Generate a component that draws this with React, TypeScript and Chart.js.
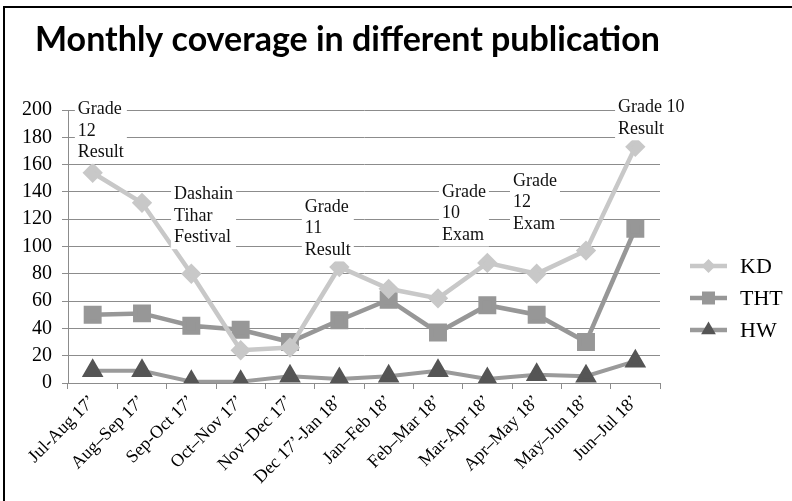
import React, { useEffect, useRef } from "react";
import { Chart, registerables } from "chart.js";

Chart.register(...registerables);

const categories = [
  "Jul-Aug 17’",
  "Aug–Sep 17’",
  "Sep-Oct 17’",
  "Oct–Nov 17’",
  "Nov–Dec 17’",
  "Dec 17’-Jan 18’",
  "Jan–Feb 18’",
  "Feb–Mar 18’",
  "Mar-Apr 18’",
  "Apr–May 18’",
  "May–Jun 18’",
  "Jun–Jul 18’",
];

const kdValues = [154, 132, 80, 24, 26, 85, 69, 62, 88, 80, 97, 173];
const thtValues = [50, 51, 42, 39, 30, 46, 61, 37, 57, 50, 30, 113];
const hwValues = [9, 9, 1, 1, 5, 3, 5, 9, 3, 6, 5, 16];

const yTicks = [0, 20, 40, 60, 80, 100, 120, 140, 160, 180, 200];

const title = "Monthly coverage in different publication";

// annotation text boxes: lines, anchor category position (fractional index), anchor value (top line)
const noteLines = [
  ["Grade", "12", "Result"],
  ["Dashain", "Tihar", "Festival"],
  ["Grade", "11", "Result"],
  ["Grade", "10", "Exam"],
  ["Grade", "12", "Exam"],
  ["Grade 10", "Result"],
];
const noteX = [-0.3, 1.65, 4.3, 7.08, 8.52, 10.65];
const noteY = [200.5, 138, 129, 140, 148, 202];

const seriesNames = ["KD", "THT", "HW"];

const SERIF = "'Liberation Serif', 'DejaVu Serif', serif";

const decorPlugin = {
  id: "decor",
  beforeDraw(chart: any) {
    const ctx = chart.ctx;
    ctx.save();
    ctx.fillStyle = "#ffffff";
    ctx.fillRect(0, 0, chart.width, chart.height);
    ctx.restore();
  },
  afterDraw(chart: any) {
    const ctx = chart.ctx;
    const xs = chart.scales.x;
    const ys = chart.scales.y;
    ctx.save();

    // frame
    ctx.fillStyle = "#000";
    ctx.fillRect(3, 6, 2, chart.height);
    ctx.fillRect(3, 6, chart.width, 2);

    // title
    ctx.fillStyle = "#000";
    ctx.font = "bold 34px Lato, 'Open Sans', sans-serif";
    ctx.textBaseline = "alphabetic";
    ctx.textAlign = "left";
    ctx.fillText(title, 35, 51);

    // annotations
    ctx.font = "18px " + SERIF;
    const lh = 21.5;
    noteLines.forEach((lines, i) => {
      const x = xs.getPixelForValue(noteX[i]);
      const y = ys.getPixelForValue(noteY[i]);
      let w = 0;
      lines.forEach((l) => (w = Math.max(w, ctx.measureText(l).width)));
      ctx.fillStyle = "#fff";
      ctx.fillRect(x - 3, y - 11, w + 6, lh * lines.length + 1);
      ctx.fillStyle = "#111";
      ctx.textBaseline = "middle";
      lines.forEach((l, k) => ctx.fillText(l, x, y + k * lh));
    });

    // legend
    const ds = chart.data.datasets;
    const ly = [266, 298, 330];
    ds.forEach((d: any, i: number) => {
      const y = ly[i];
      ctx.strokeStyle = d.borderColor;
      ctx.lineWidth = 4.5;
      ctx.beginPath();
      ctx.moveTo(690, y);
      ctx.lineTo(727, y);
      ctx.stroke();
      ctx.fillStyle = d.pointBackgroundColor;
      const cx = 708.5;
      ctx.beginPath();
      if (d.pointStyle === "rectRot") {
        const r = 7;
        ctx.moveTo(cx, y - r);
        ctx.lineTo(cx + r, y);
        ctx.lineTo(cx, y + r);
        ctx.lineTo(cx - r, y);
      } else if (d.pointStyle === "rect") {
        const s = 6.5;
        ctx.rect(cx - s, y - s, 2 * s, 2 * s);
      } else {
        const r = 8.5;
        ctx.moveTo(cx, y - r);
        ctx.lineTo(cx + r * 0.866, y + r * 0.5);
        ctx.lineTo(cx - r * 0.866, y + r * 0.5);
      }
      ctx.closePath();
      ctx.fill();
      ctx.fillStyle = "#000";
      ctx.font = "22px " + SERIF;
      ctx.textBaseline = "middle";
      ctx.textAlign = "left";
      ctx.fillText(d.label, 740, y + 1);
    });
    ctx.restore();
  },
};

export default function App() {
  const ref = useRef<HTMLCanvasElement | null>(null);
  useEffect(() => {
    document.body.style.margin = "0";
    if (!ref.current) return;
    const chart = new Chart(ref.current, {
      type: "line",
      data: {
        labels: categories,
        datasets: [
          {
            label: seriesNames[0],
            data: kdValues,
            borderColor: "#c8c8c8",
            backgroundColor: "#c8c8c8",
            pointBackgroundColor: "#c8c8c8",
            pointBorderColor: "#c8c8c8",
            pointStyle: "rectRot",
            pointRadius: 7,
            borderWidth: 4.5,
            tension: 0,
          },
          {
            label: seriesNames[1],
            data: thtValues,
            borderColor: "#979797",
            backgroundColor: "#979797",
            pointBackgroundColor: "#979797",
            pointBorderColor: "#979797",
            pointStyle: "rect",
            pointRadius: 9.5,
            borderWidth: 4.5,
            tension: 0,
          },
          {
            label: seriesNames[2],
            data: hwValues,
            borderColor: "#9a9a9a",
            backgroundColor: "#555555",
            pointBackgroundColor: "#555555",
            pointBorderColor: "#555555",
            pointStyle: "triangle",
            pointRadius: 8.5,
            borderWidth: 4,
            tension: 0,
          },
        ],
      },
      options: {
        responsive: false,
        animation: false,
        devicePixelRatio: 1,
        layout: { padding: { top: 110, right: 132, left: 0, bottom: 0 } },
        plugins: {
          legend: { display: false },
          title: { display: false },
          tooltip: { enabled: false },
        },
        scales: {
          x: {
            offset: true,
            grid: {
              offset: true,
              drawOnChartArea: false,
              drawTicks: true,
              tickLength: 6,
              color: "#8c8c8c",
            },
            border: { color: "#8c8c8c", width: 1 },
            ticks: {
              minRotation: 45,
              maxRotation: 45,
              autoSkip: false,
              color: "#000",
              padding: 2,
              font: { family: SERIF, size: 18 },
            },
            afterFit: (s: any) => {
              s.height = 118;
            },
          },
          y: {
            min: 0,
            max: 200,
            afterBuildTicks: (s: any) => {
              s.ticks = yTicks.map((v) => ({ value: v }));
            },
            grid: { color: "#8c8c8c", tickLength: 6 },
            border: { color: "#8c8c8c", width: 1 },
            ticks: {
              color: "#000",
              padding: 10,
              font: { family: SERIF, size: 20 },
            },
            afterFit: (s: any) => {
              s.width = 68;
            },
          },
        },
      },
      plugins: [decorPlugin],
    });
    return () => chart.destroy();
  }, []);
  return (
    <canvas
      ref={ref}
      width={792}
      height={501}
      style={{ display: "block", width: 792, height: 501 }}
    />
  );
}
